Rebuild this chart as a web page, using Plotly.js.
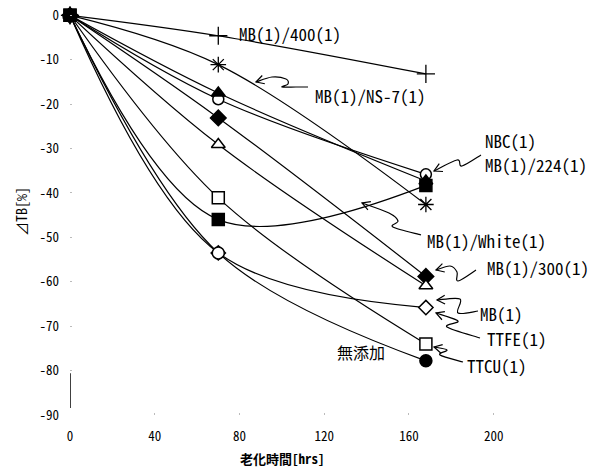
<!DOCTYPE html>
<html>
<head>
<meta charset="utf-8">
<script src="https://cdn.plot.ly/plotly-3.0.1.min.js"></script>
<style>html,body{margin:0;padding:0;background:#fff;}#chart{width:599px;height:470px;}</style>
</head>
<body>
<div id="chart"></div>
<script>
// ---- data ----
const hours = [0, 70, 168];
const mb400 = [0, -4.6, -13.2];     // +
const ns7 = [0, -11.1, -42.6];      // *
const nbc = [0, -18.9, -35.8];      // open circle
const mb224 = [0, -17.5, -37.3];    // filled triangle
const mb300 = [0, -23.1, -58.8];    // filled diamond
const mbOnly = [0, -29.1, -60.9];   // open triangle
const ttfe = [0, -53.5, -65.8];     // open diamond
const ttcu = [0, -41.1, -74.0];     // open square
const mbWhite = [0, -46.0, -38.3];  // filled square
const mutenka = [0, -53.5, -77.8];  // filled circle

const xTicks = [0, 40, 80, 120, 160, 200];
const yTicks = [0, -10, -20, -30, -40, -50, -60, -70, -80, -90];

const FONT = "'Noto Sans Mono CJK JP', 'Noto Sans CJK JP', sans-serif";

// pixel -> data helpers for decorations (labels/arrows)
const L = 70, R = 10, T = 2, B = 55, WID = 599, HEI = 470;
const PW = WID - L - R, PH = HEI - T - B;
const XR = [0, 245], YR = [-90, 3];
const dx = X => XR[0] + (X - L) / PW * (XR[1] - XR[0]);
const dy = Y => YR[1] - (Y - T) / PH * (YR[1] - YR[0]);

function line(name, y, symbol, color, size, extra) {
  return Object.assign({
    type: 'scatter', mode: 'lines+markers', name: name,
    x: hours, y: y, cliponaxis: false,
    line: {shape: 'spline', smoothing: 1, color: '#000', width: 1.2},
    marker: {symbol: symbol, size: size, color: color, line: {color: '#000', width: 1.5}}
  }, extra || {});
}

const traces = [
  line('MB(1)/400(1)', mb400, 'cross-thin', '#000', 13, {marker: {symbol: 'cross-thin', size: 13, line: {color: '#000', width: 1.3}}}),
  line('MB(1)/NS-7(1)', ns7, 'asterisk', '#000', 13, {marker: {symbol: 'asterisk', size: 13, line: {color: '#000', width: 1.3}}}),
  line('NBC(1)', nbc, 'circle', '#fff', 11),
  line('MB(1)/224(1)', mb224, 'triangle-up', '#000', 12),
  line('MB(1)/300(1)', mb300, 'diamond', '#000', 12),
  line('MB(1)', mbOnly, 'triangle-up', '#fff', 12),
  line('TTFE(1)', ttfe, 'diamond', '#fff', 11),
  line('TTCU(1)', ttcu, 'square', '#fff', 12),
  line('無添加', mutenka, 'circle', ['#000', '#fff', '#000'], 12),
  line('MB(1)/White(1)', mbWhite, 'square', '#000', 12)
];

// text labels: [text, leftPixelX, centerPixelY, size]
const labels = [
  ['MB(1)/400(1)', 237, 33, 17],
  ['MB(1)/NS-7(1)', 313, 95, 17],
  ['NBC(1)', 483, 140, 17],
  ['MB(1)/224(1)', 483, 164, 17],
  ['MB(1)/White(1)', 425, 240, 17],
  ['MB(1)/300(1)', 485, 267, 17],
  ['MB(1)', 478, 313, 17],
  ['TTFE(1)', 485, 338, 17],
  ['TTCU(1)', 465, 365, 17],
  ['無添加', 335, 352, 16]
];

// squiggly arrows: list of pixel points from tip to tail
const arrows = [
  [[256, 82], [272, 77], [286, 79], [288, 84], [282, 87], [296, 87], [308, 87]],
  [[434, 171], [457, 160], [462, 166], [481, 155]],
  [[362, 203], [389, 213], [398, 221], [393, 227], [421, 235]],
  [[436, 270], [450, 266], [457, 272], [458, 281], [476, 270]],
  [[437, 300], [460, 299], [458, 313], [478, 311]],
  [[436, 313], [458, 321], [447, 327], [480, 338]],
  [[434, 347], [447, 350], [440, 355], [463, 362]]
];

function smoothPath(pts) {
  let d = 'M' + dx(pts[0][0]) + ',' + dy(pts[0][1]);
  for (let i = 0; i < pts.length - 1; i++) {
    const p0 = pts[Math.max(0, i - 1)], p1 = pts[i], p2 = pts[i + 1], p3 = pts[Math.min(pts.length - 1, i + 2)];
    const c1 = [p1[0] + (p2[0] - p0[0]) / 6, p1[1] + (p2[1] - p0[1]) / 6];
    const c2 = [p2[0] - (p3[0] - p1[0]) / 6, p2[1] - (p3[1] - p1[1]) / 6];
    d += ' C' + dx(c1[0]) + ',' + dy(c1[1]) + ' ' + dx(c2[0]) + ',' + dy(c2[1]) + ' ' + dx(p2[0]) + ',' + dy(p2[1]);
  }
  return d;
}
function headPath(pts) {
  const t = pts[0], n = pts[1];
  const ang = Math.atan2(n[1] - t[1], n[0] - t[0]);
  const len = 9, spread = 0.5;
  const a = [t[0] + len * Math.cos(ang + spread), t[1] + len * Math.sin(ang + spread)];
  const b = [t[0] + len * Math.cos(ang - spread), t[1] + len * Math.sin(ang - spread)];
  return 'M' + dx(a[0]) + ',' + dy(a[1]) + ' L' + dx(t[0]) + ',' + dy(t[1]) + ' L' + dx(b[0]) + ',' + dy(b[1]);
}

const shapes = [];
arrows.forEach(p => {
  shapes.push({type: 'path', xref: 'x', yref: 'y', path: smoothPath(p), line: {color: '#000', width: 1.2}});
  shapes.push({type: 'path', xref: 'x', yref: 'y', path: headPath(p), line: {color: '#000', width: 1.2}});
});
// short vertical stroke near the bottom of the y axis
shapes.push({type: 'line', xref: 'x', yref: 'y', x0: 0, x1: 0, y0: -80.6, y1: -88.4, line: {color: '#000', width: 1.5}});

const annotations = labels.map(l => ({
  text: l[0], xref: 'x', yref: 'y', x: dx(l[1]), y: dy(l[2]),
  xanchor: 'left', yanchor: 'middle', showarrow: false,
  font: {family: FONT, size: l[3], color: '#000'}
}));
annotations.push({
  text: '老化時間[hrs]', xref: 'paper', yref: 'paper',
  x: (282 - L) / PW, y: -(458 - T - PH) / PH, xanchor: 'center', yanchor: 'middle', showarrow: false,
  font: {family: FONT, size: 13, color: '#000', weight: 'bold'}
});
annotations.push({
  text: '⊿TB[%]', xref: 'paper', yref: 'paper',
  x: (21 - L) / PW, y: 1 - (212 - T) / PH, xanchor: 'center', yanchor: 'middle', showarrow: false,
  textangle: -90, font: {family: FONT, size: 14, color: '#000'}
});

const layout = {
  width: WID, height: HEI,
  margin: {l: L, r: R, t: T, b: B, pad: 0},
  paper_bgcolor: '#fff', plot_bgcolor: '#fff',
  showlegend: false,
  font: {family: FONT, color: '#000', size: 12},
  xaxis: {range: XR, tickvals: xTicks, ticktext: xTicks.map(String), showgrid: false, zeroline: false,
          showline: false, ticks: 'inside', ticklen: 2, tickcolor: '#bbb', ticklabelstandoff: 12,
          tickfont: {family: FONT, size: 13}},
  yaxis: {range: YR, tickvals: yTicks, ticktext: yTicks.map(v => v === 0 ? '0' : '-' + Math.abs(v)),
          showgrid: false, zeroline: false, showline: false, ticks: 'inside', ticklen: 2, tickcolor: '#bbb',
          ticklabelstandoff: 10, tickfont: {family: FONT, size: 13}},
  shapes: shapes,
  annotations: annotations
};

Plotly.newPlot('chart', traces, layout, {staticPlot: true, displayModeBar: false});
</script>
</body>
</html>
